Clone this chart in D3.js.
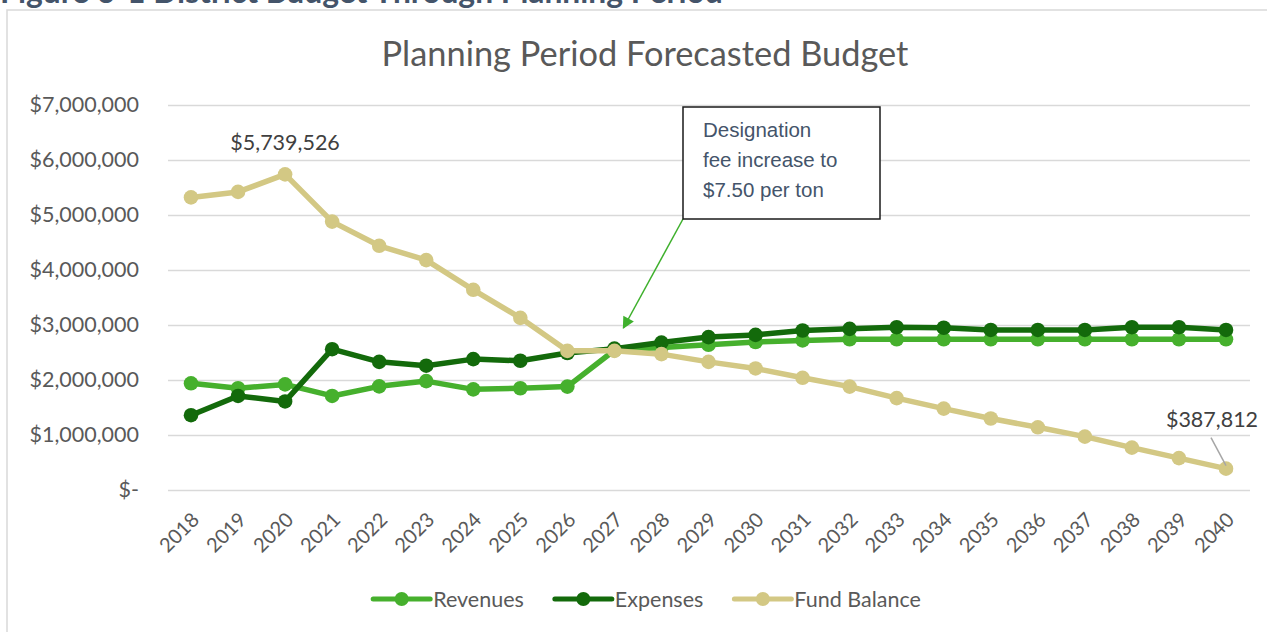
<!DOCTYPE html>
<html>
<head>
<meta charset="utf-8">
<script src="https://cdn.jsdelivr.net/npm/d3@7"></script>
<style>
  html, body { margin: 0; padding: 0; background: #fff; overflow: hidden; }
  svg { display: block; }
</style>
</head>
<body>
<svg id="chart" width="1267" height="632"></svg>
<script>
// ---------- data ----------
const years = ["2018","2019","2020","2021","2022","2023","2024","2025","2026","2027","2028","2029","2030","2031","2032","2033","2034","2035","2036","2037","2038","2039","2040"];
const revenues = [1940000,1850000,1920000,1710000,1885000,1980000,1830000,1850000,1880000,2540000,2590000,2640000,2690000,2720000,2740000,2740000,2740000,2740000,2740000,2740000,2740000,2740000,2740000];
const expenses = [1360000,1710000,1610000,2560000,2330000,2260000,2380000,2350000,2490000,2570000,2680000,2780000,2820000,2900000,2930000,2960000,2950000,2910000,2910000,2910000,2960000,2960000,2910000];
const fundBalance = [5320000,5420000,5739526,4880000,4440000,4180000,3640000,3130000,2530000,2530000,2470000,2330000,2210000,2040000,1880000,1670000,1480000,1300000,1140000,970000,770000,580000,387812];
const yTicks = [0,1000000,2000000,3000000,4000000,5000000,6000000,7000000];
const seriesNames = ["Revenues","Expenses","Fund Balance"];
const seriesColors = ["#46b02d","#136a0b","#d3c884"];
const chartTitle = "Planning Period Forecasted Budget";
const figureCaption = "Figure 6-1 District Budget Through Planning Period";
const annotationLines = ["Designation","fee increase to","$7.50 per ton"];
const annotationYear = "2027";

// ---------- setup ----------
const svg = d3.select("#chart");
const FONT = "Lato, 'Open Sans', sans-serif";
const plot = {left: 168, right: 1250, top: 105, bottom: 490};

function fitWidth(sel, target) {
  const w = sel.node().getComputedTextLength();
  const fs = parseFloat(sel.attr("font-size"));
  sel.attr("font-size", fs * target / w);
}

// caption (cut off at top, as in the source page)
const cap = svg.append("text")
  .attr("x", 0).attr("y", 2.5)
  .attr("font-family", FONT).attr("font-weight", "bold")
  .attr("font-size", 24).attr("fill", "#44546a")
  .text(figureCaption);
fitWidth(cap, 723);

// chart border
svg.append("rect")
  .attr("x", 7).attr("y", 10).attr("width", 1300).attr("height", 700)
  .attr("fill", "none").attr("stroke", "#d9d9d9").attr("stroke-width", 1.5);

// title
const title = svg.append("text")
  .attr("x", 645).attr("y", 66)
  .attr("text-anchor", "middle")
  .attr("font-family", FONT).attr("font-size", 34).attr("fill", "#595959")
  .text(chartTitle);
fitWidth(title, 527);

// scales
const x = d3.scalePoint().domain(years).range([191, 1226]);
const y = d3.scaleLinear().domain([0, 7000000]).range([plot.bottom, plot.top]);

// gridlines + y axis labels
const yAxis = d3.axisLeft(y)
  .tickValues(yTicks)
  .tickSize(-(plot.right - plot.left))
  .tickPadding(29)
  .tickFormat(d => d === 0 ? "$-" : d3.format("$,")(d));
const gy = svg.append("g").attr("transform", `translate(${plot.left},0)`).call(yAxis);
gy.select(".domain").remove();
gy.selectAll(".tick line").attr("stroke", "#d9d9d9").attr("stroke-width", 1.6);
gy.selectAll(".tick text")
  .attr("font-family", FONT).attr("font-size", 21.5).attr("fill", "#595959");

// x axis labels
const xAxis = d3.axisBottom(x).tickSize(0);
const gx = svg.append("g").attr("transform", `translate(0,${plot.bottom})`).call(xAxis);
gx.select(".domain").remove();
gx.selectAll(".tick text")
  .attr("x", 0).attr("y", 0).attr("dy", 0)
  .attr("text-anchor", "end")
  .attr("transform", "translate(9,31) rotate(-45)")
  .attr("font-family", FONT).attr("font-size", 20).attr("fill", "#595959");

// series
const allSeries = [revenues, expenses, fundBalance];
const line = d3.line().x((d, i) => x(years[i])).y(d => y(d));
allSeries.forEach((vals, si) => {
  const g = svg.append("g");
  g.append("path").datum(vals)
    .attr("d", line)
    .attr("fill", "none")
    .attr("stroke", seriesColors[si])
    .attr("stroke-width", 5.5)
    .attr("stroke-linejoin", "round");
  g.selectAll("circle").data(vals).enter().append("circle")
    .attr("cx", (d, i) => x(years[i]))
    .attr("cy", d => y(d))
    .attr("r", 7.3)
    .attr("fill", seriesColors[si]);
});

// data labels on fund balance
const fmt = d3.format("$,");
const maxIdx = fundBalance.indexOf(d3.max(fundBalance));
svg.append("text")
  .attr("x", x(years[maxIdx])).attr("y", 150)
  .attr("text-anchor", "middle")
  .attr("font-family", FONT).attr("font-size", 21.5).attr("fill", "#404040")
  .text(fmt(fundBalance[maxIdx]));
const lastIdx = fundBalance.length - 1;
svg.append("line")
  .attr("x1", x(years[lastIdx]) - 15).attr("y1", y(fundBalance[lastIdx]) - 31)
  .attr("x2", x(years[lastIdx])).attr("y2", y(fundBalance[lastIdx]) - 3)
  .attr("stroke", "#a6a6a6").attr("stroke-width", 1.5);
svg.append("text")
  .attr("x", x(years[lastIdx]) - 14).attr("y", 427)
  .attr("text-anchor", "middle")
  .attr("font-family", FONT).attr("font-size", 21.5).attr("fill", "#404040")
  .text(fmt(fundBalance[lastIdx]));

// annotation
const defs = svg.append("defs");
defs.append("marker")
  .attr("id", "arrow").attr("viewBox", "0 0 10 10")
  .attr("refX", 9).attr("refY", 5)
  .attr("markerWidth", 14).attr("markerHeight", 12)
  .attr("markerUnits", "userSpaceOnUse")
  .attr("orient", "auto")
  .append("path").attr("d", "M0,0 L10,5 L0,10 Z").attr("fill", "#3eb02c");

const box = {x: 683, y: 107, w: 197, h: 112};
const ax = x(annotationYear) + 9;
svg.append("line")
  .attr("x1", box.x).attr("y1", box.y + box.h)
  .attr("x2", ax).attr("y2", 328)
  .attr("stroke", "#3eb02c").attr("stroke-width", 1.5)
  .attr("marker-end", "url(#arrow)");
svg.append("rect")
  .attr("x", box.x).attr("y", box.y).attr("width", box.w).attr("height", box.h)
  .attr("fill", "#fff").attr("stroke", "#1a1a1a").attr("stroke-width", 1.5);
annotationLines.forEach((t, i) => {
  svg.append("text")
    .attr("x", 703).attr("y", 137 + i * 29.8)
    .attr("font-family", "'Liberation Sans', Arial, sans-serif")
    .attr("font-size", 20.5).attr("fill", "#44546a")
    .text(t);
});

// legend
const legend = svg.append("g");
let cx = 0;
seriesNames.forEach((name, i) => {
  const g = legend.append("g").attr("transform", `translate(${cx},0)`);
  g.append("line").attr("x1", 0).attr("x2", 57).attr("y1", 0).attr("y2", 0)
    .attr("stroke", seriesColors[i]).attr("stroke-width", 5).attr("stroke-linecap", "round");
  g.append("circle").attr("cx", 28.5).attr("cy", 0).attr("r", 7).attr("fill", seriesColors[i]);
  const t = g.append("text").attr("x", 60).attr("y", 7.5)
    .attr("font-family", FONT).attr("font-size", 21.5).attr("fill", "#595959")
    .text(name);
  cx += 60 + t.node().getComputedTextLength() + 31;
});
const totalW = cx - 31;
legend.attr("transform", `translate(${647 - totalW / 2},599)`);
</script>
</body>
</html>
